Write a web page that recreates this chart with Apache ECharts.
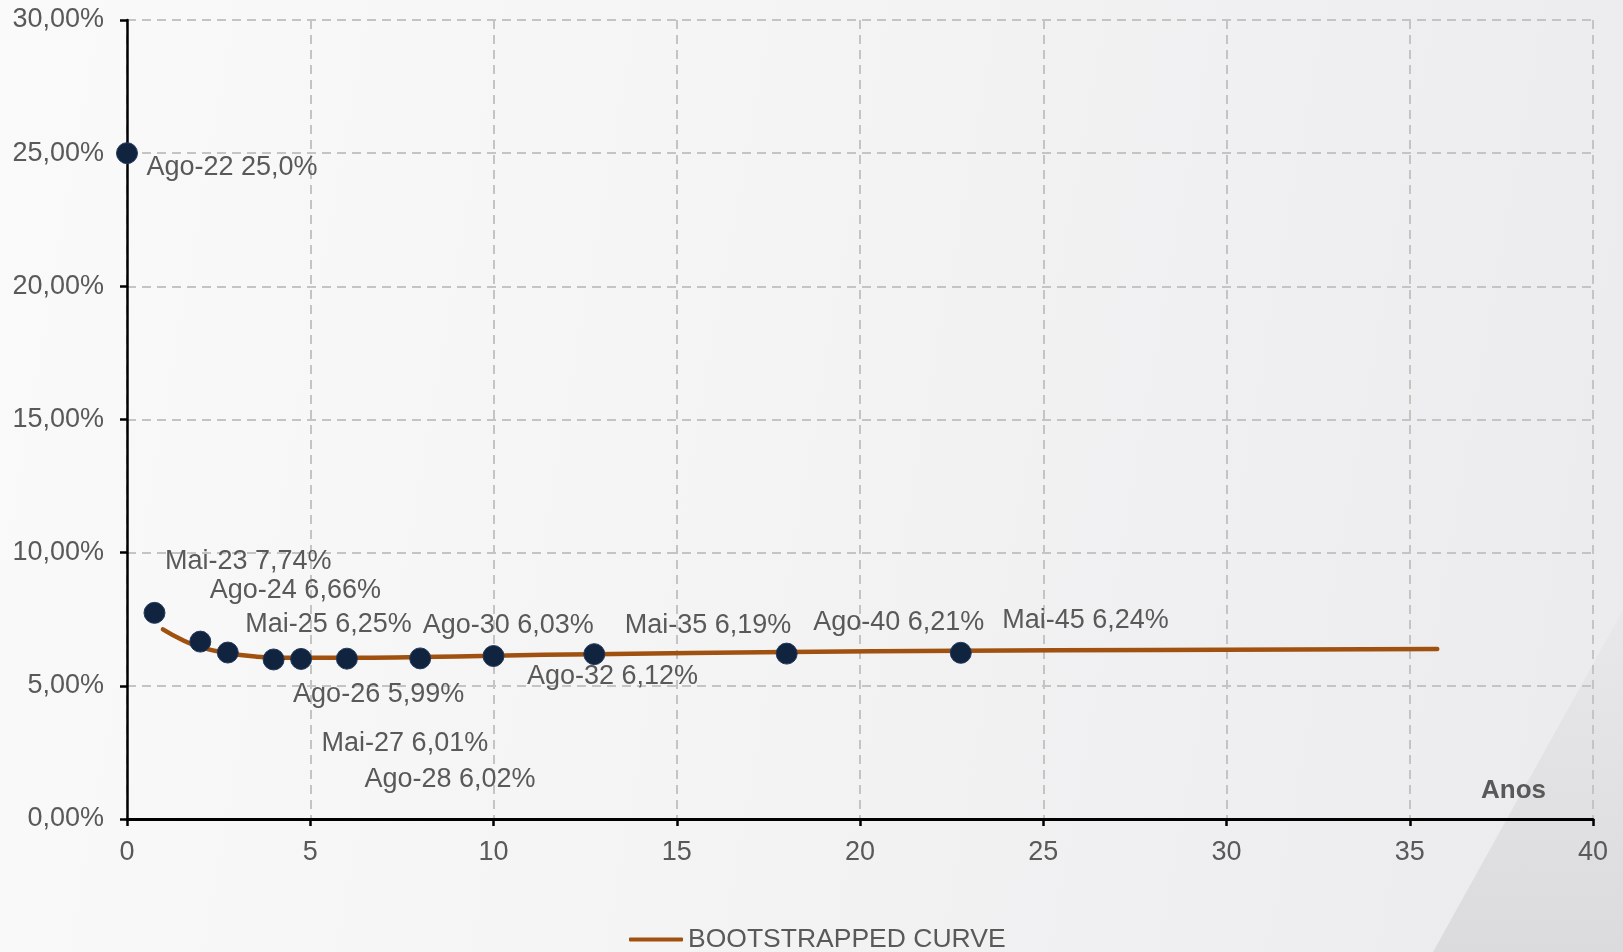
<!DOCTYPE html>
<html>
<head>
<meta charset="utf-8">
<script src="https://cdn.jsdelivr.net/npm/echarts@6/dist/echarts.min.js"></script>
<style>
  html, body { margin: 0; padding: 0; width: 1623px; height: 952px; overflow: hidden;
    background: linear-gradient(100deg, #fafafa 0%, #f4f4f5 45%, #ebebed 100%); }
  #wedge { position: absolute; left: 0; top: 0; width: 1623px; height: 952px;
    background: linear-gradient(180deg, #e9e9eb 62%, #dbdbdd 100%);
    clip-path: polygon(1623px 610px, 1623px 952px, 1433px 952px); }
  #c { position: absolute; left: 0; top: 0; width: 1623px; height: 952px; }
</style>
</head>
<body>
<div id="wedge"></div>
<div id="c"></div>
<script>
// ---- data ----
const pointNames = ['Ago-22', 'Mai-23', 'Ago-24', 'Mai-25', 'Ago-26', 'Mai-27', 'Ago-28', 'Ago-30', 'Ago-32', 'Mai-35', 'Ago-40', 'Mai-45'];
const pointYears = [0, 0.75, 2, 2.75, 4, 4.75, 6, 8, 10, 12.75, 18, 22.75];
const pointRates = [25.0, 7.74, 6.66, 6.25, 5.99, 6.01, 6.02, 6.03, 6.12, 6.19, 6.21, 6.24];
const pointRateLabels = ['25,0%', '7,74%', '6,66%', '6,25%', '5,99%', '6,01%', '6,02%', '6,03%', '6,12%', '6,19%', '6,21%', '6,24%'];

const curveName = 'BOOTSTRAPPED CURVE';
const curveYears = [0.98, 1.5, 2.0, 2.75, 3.5, 4.5, 6, 8, 10, 12.75, 18, 22.75, 28, 35.75];
const curveRates = [7.12, 6.73, 6.45, 6.22, 6.10, 6.05, 6.05, 6.08, 6.13, 6.19, 6.27, 6.32, 6.35, 6.38];

const xTickValues = [0, 5, 10, 15, 20, 25, 30, 35, 40];
const yTickLabels = ['0,00%', '5,00%', '10,00%', '15,00%', '20,00%', '25,00%', '30,00%'];
const xAxisTitle = 'Anos';

// ---- layout / style (not data) ----
const labelOffsets = [[20, 15], [11, -51], [10, -51], [18, -27], [20, 36], [21, 85], [18, 121], [3, -32], [34, 21], [31, -28], [27, -31], [42, -32]];
const dotSize = 21;
const textColor = '#595959';
const fontFam = '"Liberation Sans", Arial, sans-serif';

const chart = echarts.init(document.getElementById('c'), null, { renderer: 'canvas' });

const scatterData = pointYears.map((x, i) => ({
  value: [x, pointRates[i]],
  name: pointNames[i],
  label: { position: [dotSize / 2 + labelOffsets[i][0], dotSize / 2 + labelOffsets[i][1]] }
}));
const curveData = curveYears.map((x, i) => [x, curveRates[i]]);

chart.setOption({
  backgroundColor: 'transparent',
  animation: false,
  textStyle: { fontFamily: fontFam },
  grid: { left: 127, right: 30, top: 20, bottom: 133, containLabel: false },
  xAxis: {
    type: 'value', min: 0, max: 40, interval: 5,
    axisLine: { show: true, onZero: false, lineStyle: { color: '#000', width: 3 } },
    axisTick: { show: true, length: 7, lineStyle: { color: '#000', width: 2.5 } },
    axisLabel: { color: textColor, fontSize: 27, fontFamily: fontFam, margin: 20,
      formatter: v => xTickValues.includes(v) ? String(v) : '' },
    splitLine: { show: true, lineStyle: { color: '#c4c4c4', width: 2, type: [9, 6] } }
  },
  yAxis: {
    type: 'value', min: 0, max: 30, interval: 5,
    axisLine: { show: true, onZero: false, lineStyle: { color: '#000', width: 2.5 } },
    axisTick: { show: true, length: 7, lineStyle: { color: '#000', width: 2.5 } },
    axisLabel: { color: textColor, fontSize: 27, fontFamily: fontFam, margin: 23,
      formatter: v => yTickLabels[Math.round(v / 5)] },
    splitLine: { show: true, lineStyle: { color: '#c4c4c4', width: 2, type: [9, 6] } }
  },
  legend: {
    data: [{ name: curveName, icon: 'roundRect' }],
    left: 624, top: 921,
    itemWidth: 54, itemHeight: 4, itemGap: 10,
    textStyle: { color: textColor, fontSize: 26.5, fontFamily: fontFam }
  },
  graphic: [{
    type: 'text', left: 1481, top: 778, z: 5,
    style: { text: xAxisTitle, fill: textColor, font: 'bold 26px ' + fontFam }
  }],
  series: [
    {
      name: curveName, type: 'line', data: curveData,
      smooth: 0.5, symbol: 'none', z: 3,
      lineStyle: { color: '#a0500f', width: 4.5, cap: 'round' },
      itemStyle: { color: '#a0500f' }
    },
    {
      name: 'points', type: 'scatter', data: scatterData, z: 4,
      symbol: 'circle', symbolSize: dotSize,
      itemStyle: { color: '#10243f', borderColor: '#23385a', borderWidth: 1, opacity: 1 },
      label: {
        show: true, align: 'left', verticalAlign: 'middle',
        color: textColor, fontSize: 27, fontFamily: fontFam,
        formatter: p => pointNames[p.dataIndex] + ' ' + pointRateLabels[p.dataIndex]
      },
      labelLayout: { hideOverlap: false },
      emphasis: { disabled: true }
    }
  ]
});
</script>
</body>
</html>
